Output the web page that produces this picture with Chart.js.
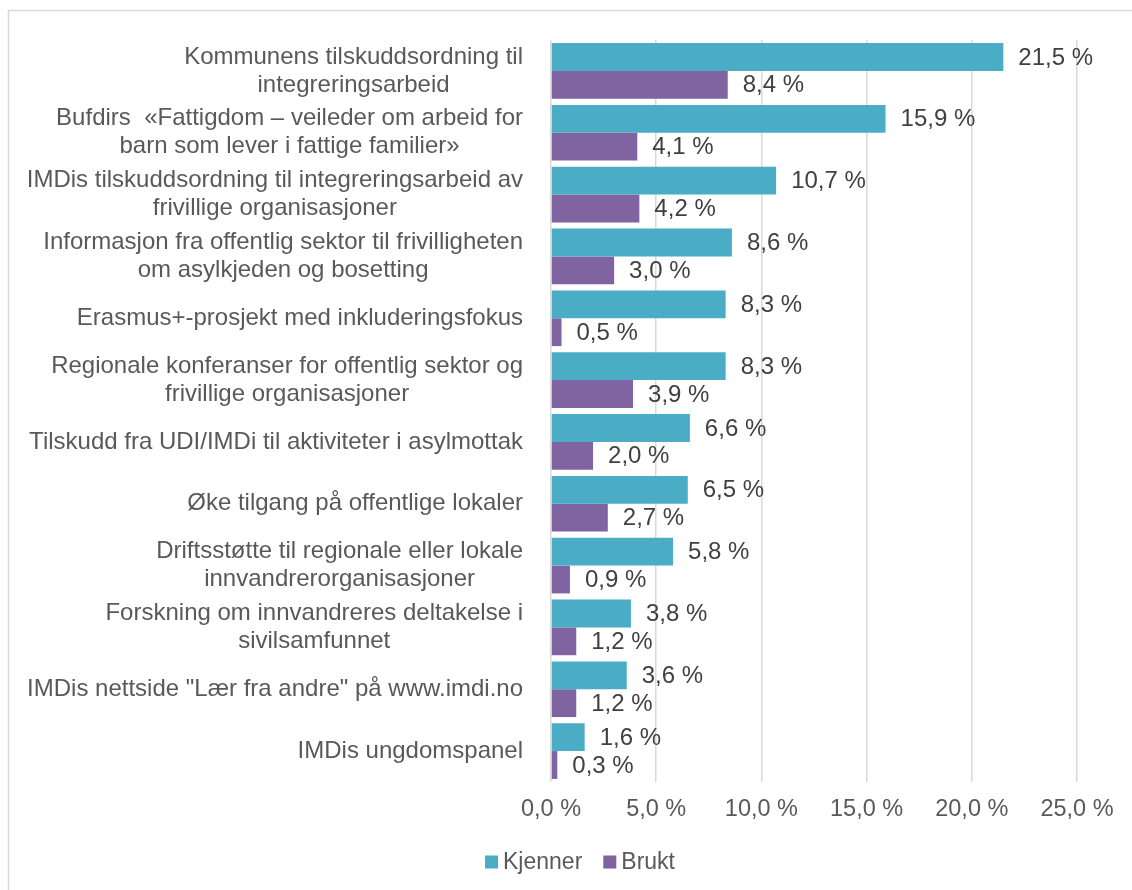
<!DOCTYPE html>
<html>
<head>
<meta charset="utf-8">
<script src="https://cdn.jsdelivr.net/npm/chart.js@4"></script>
<style>
  body { margin: 0; background: #fff; }
</style>
</head>
<body>
<canvas id="chart" width="1132" height="890"></canvas>
<script>
// categories (top to bottom)
const categories = [
  ["Kommunens tilskuddsordning til", "integreringsarbeid"],
  ["Bufdirs  «Fattigdom – veileder om arbeid for", "barn som lever i fattige familier»"],
  ["IMDis tilskuddsordning til integreringsarbeid av", "frivillige organisasjoner"],
  ["Informasjon fra offentlig sektor til frivilligheten", "om asylkjeden og bosetting"],
  ["Erasmus+-prosjekt med inkluderingsfokus"],
  ["Regionale konferanser for offentlig sektor og", "frivillige organisasjoner"],
  ["Tilskudd fra UDI/IMDi til aktiviteter i asylmottak"],
  ["Øke tilgang på offentlige lokaler"],
  ["Driftsstøtte til regionale eller lokale", "innvandrerorganisasjoner"],
  ["Forskning om innvandreres deltakelse i", "sivilsamfunnet"],
  ['IMDis nettside "Lær fra andre" på www.imdi.no'],
  ["IMDis ungdomspanel"]
];
const kjenner = [21.5, 15.9, 10.7, 8.6, 8.3, 8.3, 6.6, 6.5, 5.8, 3.8, 3.6, 1.6];
const brukt = [8.4, 4.1, 4.2, 3.0, 0.5, 3.9, 2.0, 2.7, 0.9, 1.2, 1.2, 0.3];
const xTicks = [0, 5, 10, 15, 20, 25];

const FONT = '"Liberation Sans", Arial, sans-serif';
const fmt = v => v.toFixed(1).replace('.', ',') + ' %';

// frame, category labels, value labels and legend
const extras = {
  id: 'extras',
  afterDraw(chart) {
    const ctx = chart.ctx;
    const y = chart.scales.y;
    ctx.save();

    ctx.strokeStyle = '#d9d9d9';
    ctx.lineWidth = 1.5;
    ctx.strokeRect(8.5, 10.5, 1130, 890);

    // category labels: each block right aligned, lines centered in block
    ctx.font = '24px ' + FONT;
    ctx.fillStyle = '#595959';
    ctx.textBaseline = 'middle';
    ctx.textAlign = 'center';
    const right = 523, lh = 28;
    categories.forEach((lines, i) => {
      const cy = y.getPixelForValue(i);
      const w = Math.max(...lines.map(l => ctx.measureText(l).width));
      const cx = right - w / 2;
      lines.forEach((l, j) => {
        ctx.fillText(l, cx, cy + (j - (lines.length - 1) / 2) * lh);
      });
    });

    // value labels
    ctx.fillStyle = '#404040';
    ctx.textAlign = 'left';
    chart.data.datasets.forEach((ds, di) => {
      chart.getDatasetMeta(di).data.forEach((bar, i) => {
        ctx.fillText(fmt(ds.data[i]), bar.x + 15, bar.y + 1);
      });
    });

    // legend
    ctx.font = '23px ' + FONT;
    const items = chart.data.datasets.map(ds => ({ text: ds.label, color: ds.backgroundColor }));
    const box = 13, gap = 5, between = 21;
    const widths = items.map(it => box + gap + ctx.measureText(it.text).width);
    const total = widths.reduce((a, b) => a + b, 0) + between * (items.length - 1);
    let lx = 580 - total / 2;
    const ly = 862;
    items.forEach((it, k) => {
      ctx.fillStyle = it.color;
      ctx.fillRect(lx, ly - box / 2, box, box);
      ctx.fillStyle = '#595959';
      ctx.fillText(it.text, lx + box + gap, ly + 1);
      lx += widths[k] + between;
    });
    ctx.restore();
  }
};

new Chart(document.getElementById('chart'), {
  type: 'bar',
  data: {
    labels: categories,
    datasets: [
      { label: 'Kjenner', data: kjenner, backgroundColor: '#4bacc6' },
      { label: 'Brukt', data: brukt, backgroundColor: '#8064a2' }
    ]
  },
  options: {
    indexAxis: 'y',
    responsive: false,
    animation: false,
    datasets: { bar: { categoryPercentage: 0.9, barPercentage: 1.0 } },
    layout: { padding: { left: 551, right: 55, top: 40, bottom: 58 } },
    plugins: { legend: { display: false }, tooltip: { enabled: false } },
    scales: {
      y: { display: false },
      x: {
        min: 0,
        max: 25,
        afterBuildTicks: s => { s.ticks = xTicks.map(v => ({ value: v })); },
        afterFit: s => { s.height = 50; },
        border: { display: false },
        grid: { color: '#d9d9d9', lineWidth: 1.5, drawTicks: false },
        ticks: {
          padding: 13,
          color: '#595959',
          font: { family: FONT, size: 23.5 },
          callback: v => fmt(v)
        }
      }
    }
  },
  plugins: [extras]
});
</script>
</body>
</html>
